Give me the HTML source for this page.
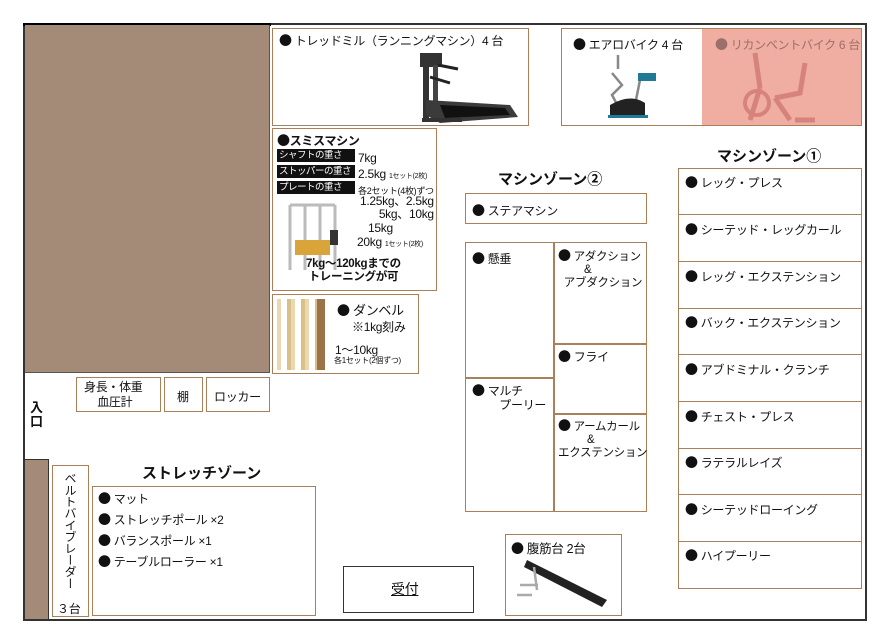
<!DOCTYPE html>
<html><head><meta charset="utf-8"><style>
*{margin:0;padding:0;box-sizing:border-box}
body{width:890px;height:643px;background:#fff;position:relative;overflow:hidden;font-family:"Liberation Sans","Noto Sans CJK JP",sans-serif;color:#111}
.a{position:absolute}
.b{position:absolute;border:1.5px solid #a9805a;background:#fff}
.t{position:absolute;font-size:12px;white-space:nowrap;letter-spacing:-0.3px}
.h{position:absolute;font-size:15px;font-weight:bold;white-space:nowrap}
.d{font-family:"Noto Sans CJK JP",sans-serif;font-size:13px;font-weight:normal;line-height:1}
.lbl{background:#111;color:#fff;font-size:9.5px;padding:0 2px;display:inline-block;width:78px;overflow:hidden;letter-spacing:-0.5px;line-height:13px}
.row{position:absolute;left:0;width:100%;border-top:1.5px solid #a9805a}
</style></head><body>
<div class="a" style="left:23px;top:23px;width:844px;height:598px;border:2px solid #333"></div>
<div class="a" style="left:23px;top:23px;width:248px;height:3px;background:#000"></div>
<div class="a" style="left:25px;top:25px;width:245px;height:348px;background:#a48b78;border-right:1.5px solid #555;border-bottom:1.5px solid #555"></div>
<div class="a" style="left:25px;top:459px;width:24px;height:160px;background:#a48b78;border-top:1.5px solid #333;border-right:1.5px solid #333"></div>
<div class="t" style="left:30px;top:401px;font-size:13px;font-weight:bold;width:13px;line-height:14px;white-space:normal">入口</div>

<div class="b" style="left:272px;top:28px;width:257px;height:98px"></div>
<div class="t" style="left:279px;top:32px"><span class="d">●</span> トレッドミル（ランニングマシン）4 台</div>
<svg class="a" style="left:400px;top:45px" width="125" height="80">
<rect x="20" y="8" width="22" height="14" fill="#333"/><rect x="23" y="20" width="6" height="55" fill="#333"/><rect x="33" y="20" width="5" height="45" fill="#444"/>
<path d="M38 20 L58 24" stroke="#222" stroke-width="3"/><path d="M30 32 L50 38" stroke="#222" stroke-width="3"/>
<polygon points="26,55 110,60 118,72 40,78 26,70" fill="#3b3b3b"/><polygon points="40,60 105,63 110,70 45,73" fill="#111"/>
<rect x="22" y="73" width="40" height="4" fill="#333"/></svg>

<div class="b" style="left:561px;top:28px;width:301px;height:98px"></div>
<div class="a" style="left:702px;top:29px;width:159px;height:96px;background:#f0ada1"></div>
<div class="t" style="left:573px;top:36px"><span class="d">●</span> エアロバイク 4 台</div>
<div class="t" style="left:715px;top:36px;color:#9a7068"><span class="d">●</span> リカンベントバイク 6 台</div>
<svg class="a" style="left:600px;top:55px" width="70" height="65">
<path d="M18 0 V14 M12 18 L22 30 L12 40 L20 55" stroke="#888" stroke-width="2.5" fill="none"/>
<path d="M40 25 L35 50" stroke="#888" stroke-width="2.5"/><rect x="38" y="18" width="18" height="8" fill="#1f7a95"/>
<path d="M10 50 Q30 38 45 48 L45 60 L10 60 Z" fill="#222"/><rect x="8" y="60" width="40" height="3" fill="#1f7a95"/></svg>
<svg class="a" style="left:735px;top:48px" width="100" height="75" opacity="0.55">
<path d="M20 5 L25 40 M70 15 L65 45 L40 50 M25 40 L15 72 M40 50 L55 72 M60 72 L80 72" stroke="#c26060" stroke-width="5" fill="none"/>
<circle cx="22" cy="55" r="12" fill="none" stroke="#c26060" stroke-width="4"/></svg>

<div class="b" style="left:272px;top:128px;width:165px;height:163px"></div>
<div class="t" style="left:277px;top:132px;font-weight:bold"><span class="d">●</span>スミスマシン</div>
<div class="t" style="left:277px;top:149px"><span class="lbl">シャフトの重さ</span> 7kg</div>
<div class="t" style="left:277px;top:165px"><span class="lbl">ストッパーの重さ</span> 2.5kg <span style="font-size:7px">1セット(2枚)</span></div>
<div class="t" style="left:277px;top:181px"><span class="lbl">プレートの重さ</span> <span style="font-size:9px">各2セット(4枚)ずつ</span></div>
<div class="t" style="left:360px;top:195px;font-size:12px;line-height:13px;text-align:right">1.25kg、2.5kg<br>5kg、10kg</div>
<div class="t" style="left:368px;top:221px">15kg</div>
<div class="t" style="left:357px;top:235px">20kg <span style="font-size:7px">1セット(2枚)</span></div>
<svg class="a" style="left:285px;top:200px" width="70" height="75"><path d="M5 5 V70 M50 5 V70 M20 5 V70 M35 5 V70 M5 5 H50" stroke="#bbb" stroke-width="3" fill="none"/><rect x="10" y="40" width="35" height="15" fill="#d9a53a"/><rect x="45" y="30" width="8" height="15" fill="#333"/></svg>
<div class="t" style="left:306px;top:258px;font-weight:bold;font-size:11.5px;line-height:13px;text-align:center">7kg～120kgまでの<br>トレーニングが可</div>

<div class="b" style="left:272px;top:294px;width:147px;height:80px"></div>
<div class="a" style="left:277px;top:299px;width:48px;height:71px;background:repeating-linear-gradient(90deg,#e8d9b0 0 4px,#fff 4px 10px,#d9c08a 10px 14px);border-right:8px solid #9c7248"></div>
<div class="t" style="left:337px;top:300px;font-size:13px"><span class="d">●</span> ダンベル</div>
<div class="t" style="left:352px;top:318px">※1kg刻み</div>
<div class="t" style="left:335px;top:341px">1～10kg</div>
<div class="t" style="left:334px;top:355px;font-size:8px">各1セット(2個ずつ)</div>

<div class="b" style="left:76px;top:377px;width:85px;height:35px"></div>
<div class="t" style="left:84px;top:380px;text-align:center;line-height:15px">身長・体重<br>&nbsp;血圧計</div>
<div class="b" style="left:164px;top:377px;width:39px;height:35px"></div>
<div class="t" style="left:177px;top:388px">棚</div>
<div class="b" style="left:206px;top:377px;width:64px;height:35px"></div>
<div class="t" style="left:214px;top:388px">ロッカー</div>

<div class="b" style="left:52px;top:465px;width:37px;height:152px"></div>
<div class="t" style="left:63px;top:472px;width:14px;white-space:normal;line-height:15px;font-size:12px;writing-mode:vertical-rl">ベルトバイブレーダー</div>
<div class="t" style="left:57px;top:600px">３台</div>
<div class="h" style="left:142px;top:462px">ストレッチゾーン</div>
<div class="b" style="left:92px;top:486px;width:224px;height:130px"></div>
<div class="t" style="left:98px;top:490px"><span class="d">●</span> マット</div>
<div class="t" style="left:98px;top:511px"><span class="d">●</span> ストレッチポール ×2</div>
<div class="t" style="left:98px;top:532px"><span class="d">●</span> バランスポール ×1</div>
<div class="t" style="left:98px;top:553px"><span class="d">●</span> テーブルローラー ×1</div>

<div class="a" style="left:343px;top:566px;width:131px;height:47px;border:1.5px solid #333"></div>
<div class="t" style="left:391px;top:579px;font-size:14px;text-decoration:underline">受付</div>

<div class="h" style="left:498px;top:168px">マシンゾーン②</div>
<div class="b" style="left:465px;top:193px;width:182px;height:31px"></div>
<div class="t" style="left:472px;top:202px"><span class="d">●</span> ステアマシン</div>
<div class="b" style="left:465px;top:242px;width:182px;height:270px"></div>
<div class="a" style="left:553px;top:242px;width:1.5px;height:270px;background:#a9805a"></div>
<div class="a" style="left:465px;top:377px;width:89px;height:1.5px;background:#a9805a"></div>
<div class="a" style="left:553px;top:343px;width:94px;height:1.5px;background:#a9805a"></div>
<div class="a" style="left:553px;top:413px;width:94px;height:1.5px;background:#a9805a"></div>
<div class="t" style="left:472px;top:250px"><span class="d">●</span> 懸垂</div>
<div class="t" style="left:558px;top:248px;line-height:13px;font-size:11.5px"><span class="d">●</span> アダクション<br>&nbsp;&nbsp;&nbsp;&nbsp;&nbsp;&nbsp;&nbsp;&nbsp;&nbsp;&amp;<br>&nbsp;&nbsp;アブダクション</div>
<div class="t" style="left:558px;top:348px"><span class="d">●</span> フライ</div>
<div class="t" style="left:472px;top:383px;line-height:14px"><span class="d">●</span> マルチ<br>&nbsp;&nbsp;&nbsp;&nbsp;&nbsp;&nbsp;&nbsp;&nbsp;&nbsp;プーリー</div>
<div class="t" style="left:558px;top:418px;line-height:13px;font-size:11.5px"><span class="d">●</span> アームカール<br>&nbsp;&nbsp;&nbsp;&nbsp;&nbsp;&nbsp;&nbsp;&nbsp;&nbsp;&nbsp;&amp;<br>エクステンション</div>

<div class="b" style="left:505px;top:534px;width:117px;height:82px"></div>
<div class="t" style="left:511px;top:538px;font-size:12.5px"><span class="d">●</span> 腹筋台 2台</div>
<svg class="a" style="left:512px;top:555px" width="100" height="58"><polygon points="15,5 95,45 90,52 12,12" fill="#222"/><path d="M22 12 L25 35 M8 30 H26 M5 40 H20" stroke="#aaa" stroke-width="2.5"/></svg>

<div class="h" style="left:717px;top:145px">マシンゾーン①</div>
<div class="b" style="left:678px;top:168px;width:184px;height:421px">
<div class="row" style="top:45px"></div><div class="row" style="top:92px"></div><div class="row" style="top:139px"></div><div class="row" style="top:185px"></div><div class="row" style="top:232px"></div><div class="row" style="top:279px"></div><div class="row" style="top:325px"></div><div class="row" style="top:372px"></div>
</div>
<div class="t" style="left:685px;top:174px"><span class="d">●</span> レッグ・プレス</div>
<div class="t" style="left:685px;top:221px"><span class="d">●</span> シーテッド・レッグカール</div>
<div class="t" style="left:685px;top:268px"><span class="d">●</span> レッグ・エクステンション</div>
<div class="t" style="left:685px;top:314px"><span class="d">●</span> バック・エクステンション</div>
<div class="t" style="left:685px;top:361px"><span class="d">●</span> アブドミナル・クランチ</div>
<div class="t" style="left:685px;top:408px"><span class="d">●</span> チェスト・プレス</div>
<div class="t" style="left:685px;top:454px"><span class="d">●</span> ラテラルレイズ</div>
<div class="t" style="left:685px;top:501px"><span class="d">●</span> シーテッドローイング</div>
<div class="t" style="left:685px;top:547px"><span class="d">●</span> ハイプーリー</div>
</body></html>
